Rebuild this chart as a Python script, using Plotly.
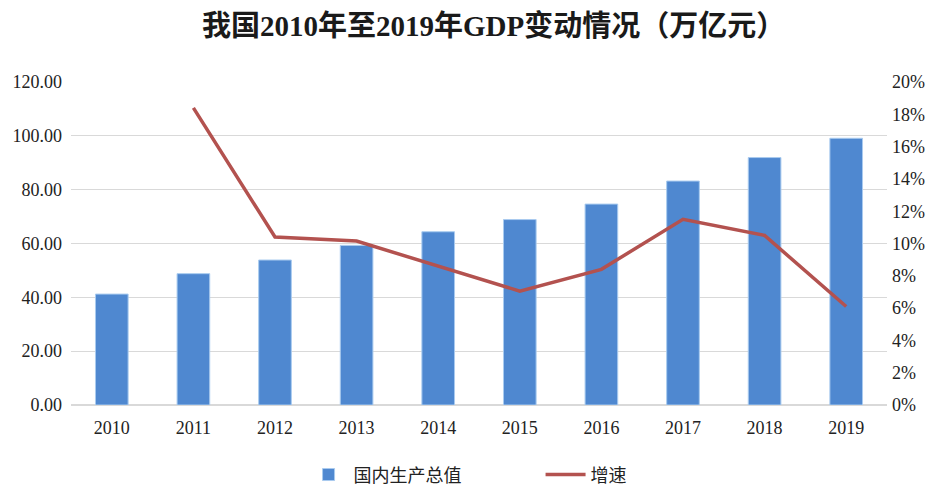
import plotly.graph_objects as go

years = ["2010", "2011", "2012", "2013", "2014", "2015", "2016", "2017", "2018", "2019"]
gdp = [41.21, 48.79, 53.86, 59.30, 64.36, 68.89, 74.64, 83.20, 91.93, 99.09]
growth = [None, 18.4, 10.4, 10.15, 8.6, 7.05, 8.4, 11.5, 10.5, 6.1]
pct_ticks = [0, 2, 4, 6, 8, 10, 12, 14, 16, 18, 20]
pct_labels = [f"{v}%" for v in pct_ticks]

serif = "Liberation Serif, Noto Sans CJK SC, serif"
sans = "Noto Sans CJK SC, sans-serif"

fig = go.Figure()
fig.add_trace(go.Bar(
    x=years, y=gdp, name="国内生产总值",
    marker=dict(color="#4F88D0", line=dict(color="#A9CBEF", width=1)),
    yaxis="y",
))
fig.add_trace(go.Scatter(
    x=years, y=growth, name="增速", mode="lines",
    line=dict(color="#B3524F", width=3.5),
    yaxis="y2",
))

fig.update_layout(
    width=935, height=488,
    margin=dict(l=71, r=48, t=82, b=83, autoexpand=False),
    paper_bgcolor="white", plot_bgcolor="white",
    title=dict(
        text="<b>我国2010年至2019年GDP变动情况（万亿元）</b>",
        xref="container", x=0.528, xanchor="center",
        yref="container", y=0.948, yanchor="middle",
        font=dict(family=serif, size=29, color="#1a1a1a"),
    ),
    bargap=0.6,
    showlegend=True,
    legend=dict(
        orientation="h", x=0.285, xanchor="left",
        yref="container", y=0.027, yanchor="middle",
        font=dict(family=sans, size=18, color="#222"),
        entrywidth=182, itemwidth=40,
    ),
    xaxis=dict(
        type="category", showgrid=False, showline=False, ticks="",
        tickfont=dict(family=serif, size=18, color="#222"),
        ticklabelstandoff=10,
    ),
    yaxis=dict(
        range=[0, 120], tickvals=[0, 20, 40, 60, 80, 100, 120],
        tickformat=".2f", showgrid=True, gridcolor="#D9D9D9", gridwidth=1,
        zeroline=True, zerolinecolor="#D9D9D9", showline=False, ticks="",
        tickfont=dict(family=serif, size=18, color="#222"),
        ticklabelstandoff=8,
    ),
    yaxis2=dict(
        range=[0, 20], tickmode="array", tickvals=pct_ticks, ticktext=pct_labels,
        overlaying="y", side="right", showgrid=False, zeroline=False,
        showline=False, ticks="",
        tickfont=dict(family=serif, size=18, color="#222"),
        ticklabelstandoff=4,
    ),
)

fig.write_html("out.html")
